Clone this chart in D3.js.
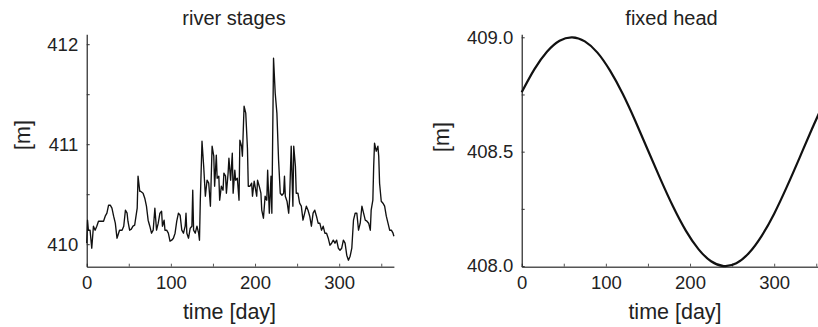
<!DOCTYPE html>
<html>
<head>
<meta charset="utf-8">
<script src="https://cdn.jsdelivr.net/npm/d3@7"></script>
<style>
  html, body { margin: 0; padding: 0; background: #fff; overflow: hidden; }
  svg { display: block; font-family: "Liberation Sans", Arial, Helvetica, sans-serif; }
</style>
</head>
<body>
<svg id="chart" width="818" height="327"></svg>
<script>
// ---- data ----
const riverDays = [0,1,2,4,6,8,10,12,14,18,20,22,24,26,28,30,32,34,36,39,42,44,46,48,49,51,53,55,57,60,
  61,63,64,67,69,71,73,75,77,79,81,83,85,87,89,90,92,93,95,97,99,101,103,105,107,109,111,113,115,117,
  118,119,121,123,125,126,127,129,131,133,134,135,137,139,141,143,145,147,149,151,152,154,155,157,158,
  160,162,163,165,166,168,169,171,173,174,176,177,179,181,182,184,185,187,189,191,192,194,196,197,199,
  200,202,203,205,207,208,210,212,214,215,217,219,220,222,224,226,228,230,232,234,235,236,238,240,241,
  243,245,246,248,249,251,253,255,257,259,261,263,265,267,269,271,273,275,277,279,281,283,285,287,289,
  291,293,295,297,299,301,303,305,307,309,311,313,315,317,319,321,323,325,327,329,331,333,335,337,338,
  340,341,342,344,346,347,348,350,352,354,356,358,360,362,364,365];
const riverStages = [410.01,410.24,410.14,410.14,409.96,410.18,410.14,410.18,410.23,410.23,410.23,410.28,410.31,410.39,410.39,410.36,410.28,410.21,410.06,410.14,410.14,410.18,410.34,410.31,410.23,410.14,410.15,410.18,410.19,410.36,
  410.68,410.53,410.53,410.51,410.46,410.38,410.24,410.18,410.11,410.14,410.36,410.14,410.21,410.31,410.33,410.18,410.24,410.14,410.14,410.11,410.03,410.04,410.06,410.11,410.23,410.31,410.29,410.14,410.11,410.18,
  410.31,410.11,410.06,410.16,410.18,410.54,410.14,410.11,410.18,410.11,410.04,410.44,411.03,410.78,410.48,410.64,410.61,410.38,410.98,410.88,410.58,410.89,410.66,410.68,410.44,
  410.58,410.54,410.71,410.68,410.51,410.71,410.86,410.64,410.91,410.51,410.74,410.64,410.66,410.44,411.04,410.98,410.88,411.38,411.31,410.96,410.58,410.58,410.61,410.48,410.63,
  410.58,410.48,410.64,410.58,410.51,410.34,410.26,410.48,410.44,410.74,410.31,410.68,410.31,411.86,411.51,411.31,410.84,410.51,410.49,410.51,410.68,410.48,410.43,410.31,410.44,
  410.98,410.38,410.98,410.78,410.51,410.51,410.41,410.38,410.24,410.31,410.38,410.34,410.28,410.18,410.31,410.34,410.28,410.21,410.21,410.14,410.18,410.11,410.11,410.06,409.99,
  410.01,410.04,410.01,410.04,409.96,409.94,409.96,410.04,410.01,409.89,409.84,409.88,409.96,410.24,410.31,410.31,410.14,410.21,410.38,410.31,410.24,410.23,410.21,410.14,410.34,
  410.44,410.78,411.01,410.93,410.98,410.88,410.61,410.43,410.41,410.38,410.28,410.21,410.14,410.14,410.11,410.08];

const headDays  = [0,15,30,45,60,75,90,105,120,135,150,165,180,195,210,225,240,255,270,285,300,315,330,345,360];
const fixedHead = [408.760,408.860,408.937,408.985,409.000,408.982,408.933,408.854,408.753,408.634,408.506,408.379,408.259,408.155,408.074,408.021,408.000,408.012,408.057,408.131,408.229,408.346,408.472,408.600,408.722];

const xTicks = [0,50,100,150,200,250,300,350];
const xTickLabels = [0,100,200,300];
const riverYTicks = [410,410.5,411,411.5,412];
const riverYLabels = [410,411,412];
const headYTicks = [408,408.25,408.5,408.75,409];
const headYLabels = [408,408.5,409];

const svg = d3.select("#chart");
const textColor = "#222";
const fs = 18.5;

function panel(opts) {
  const g = svg.append("g");
  const x = d3.scaleLinear().domain([0, 365]).range([opts.x0, opts.x0 + 365 * 0.8416]);
  const y = d3.scaleLinear().domain(opts.yDomain).range([266.7, 34.3]);

  // x axis
  const xa = g.append("g").attr("transform", `translate(0,${266.7})`)
    .call(d3.axisBottom(x).tickValues(xTicks).tickSizeInner(-3).tickSizeOuter(0).tickPadding(9.3)
      .tickFormat(d => xTickLabels.includes(d) ? d : ""));
  xa.select(".domain").attr("stroke", "#555").attr("stroke-width", 1.6);
  xa.selectAll(".tick line").attr("stroke", "#555");
  xa.selectAll("text").attr("font-size", fs).attr("fill", textColor).attr("font-family", null);

  // y axis
  const ya = g.append("g").attr("transform", `translate(${opts.x0},0)`)
    .call(d3.axisLeft(y).tickValues(opts.yTicks).tickSizeInner(-3).tickSizeOuter(0).tickPadding(8.5)
      .tickFormat(d => opts.yLabels.includes(d) ? opts.fmt(d) : ""));
  ya.select(".domain").attr("stroke", "#111").attr("stroke-width", 1.1);
  ya.selectAll(".tick line").attr("stroke", "#333");
  ya.selectAll("text").attr("font-size", fs).attr("fill", textColor).attr("font-family", null);

  // line
  const line = d3.line().x(d => x(d[0])).y(d => y(d[1]));
  if (opts.curve) line.curve(opts.curve);
  g.append("path")
    .datum(opts.days.map((d, i) => [d, opts.vals[i]]))
    .attr("fill", "none").attr("stroke", "#111")
    .attr("stroke-width", opts.sw).attr("stroke-linejoin", "round")
    .attr("d", line);

  // titles
  g.append("text").attr("x", opts.titleX).attr("y", 25).attr("text-anchor", "middle")
    .attr("font-size", 20).attr("fill", textColor).text(opts.title);
  g.append("text").attr("x", opts.xlabX).attr("y", 319).attr("text-anchor", "middle")
    .attr("font-size", 21.5).attr("fill", textColor).text("time [day]");
  g.append("text").attr("transform", `translate(${opts.ylabX},${opts.ylabY}) rotate(-90)`)
    .attr("text-anchor", "middle").attr("font-size", 21.5).attr("fill", textColor).text("[m]");
}

panel({
  x0: 86.7, yDomain: [409.775, 412.099], yTicks: riverYTicks, yLabels: riverYLabels,
  fmt: d3.format("d"), days: riverDays, vals: riverStages, sw: 1.35,
  title: "river stages", titleX: 234, xlabX: 229.5, ylabX: 30, ylabY: 135
});

panel({
  x0: 521.7, yDomain: [407.9971, 409.0131], yTicks: headYTicks, yLabels: headYLabels,
  fmt: d3.format(".1f"), days: headDays, vals: fixedHead, sw: 2.2, curve: d3.curveNatural,
  title: "fixed head", titleX: 671.5, xlabX: 675, ylabX: 449, ylabY: 137
});
</script>
</body>
</html>
